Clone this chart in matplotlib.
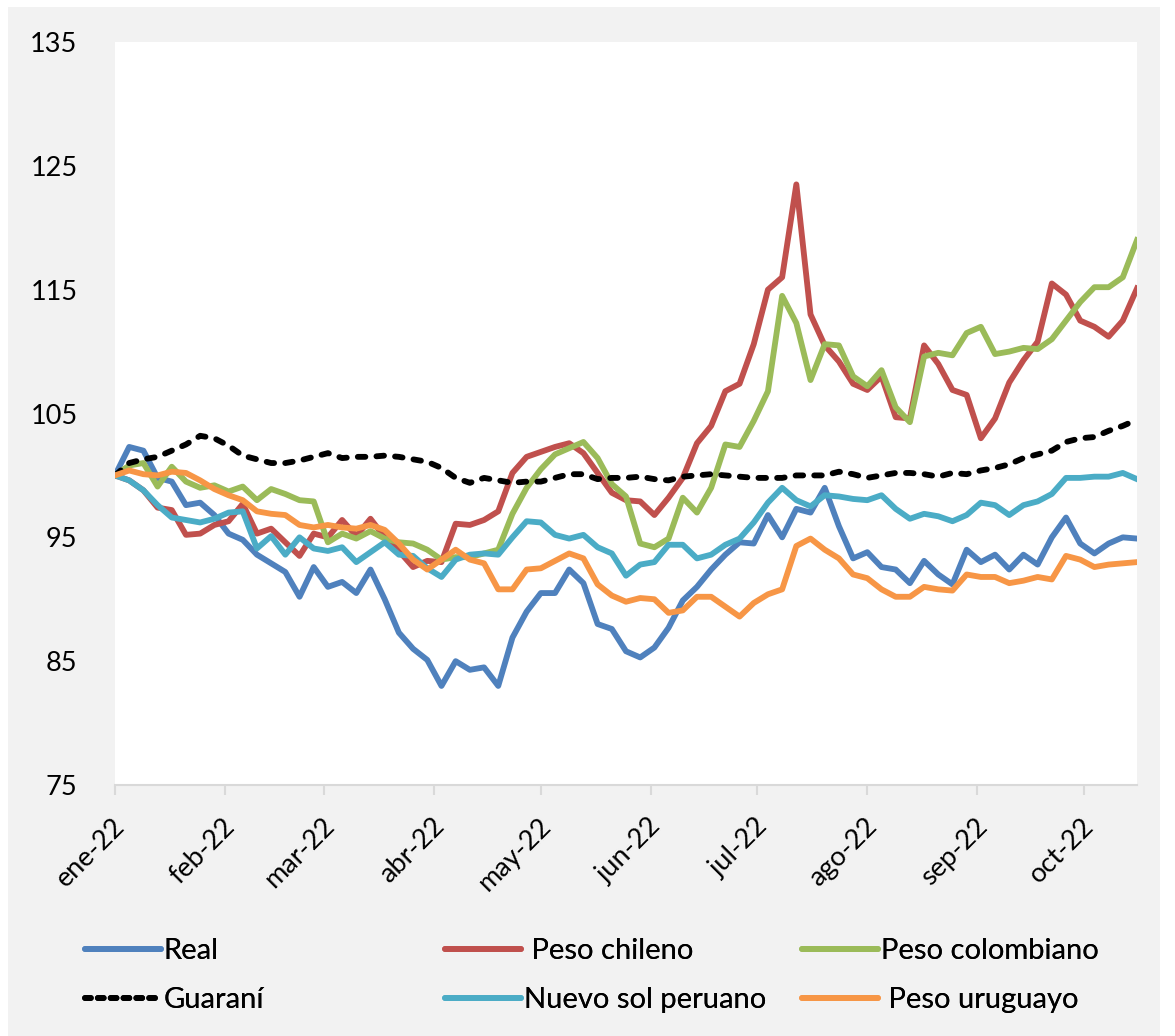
import matplotlib.pyplot as plt
from matplotlib.lines import Line2D
from matplotlib.patches import Rectangle
from matplotlib.transforms import ScaledTranslation
import pandas as pd

plt.rcParams["font.family"] = ["Lato", "DejaVu Sans"]

# índices base 100 (1 ene 2022), una observación cada 4 días
dates = pd.date_range("2022-01-01", periods=73, freq="4D")

real = [100.0, 102.3, 102.0, 99.8, 99.5, 97.6, 97.8, 96.8, 95.3, 94.8,
        93.6, 92.9, 92.2, 90.2, 92.6, 91.0, 91.4, 90.5, 92.4, 90.0,
        87.3, 86.0, 85.1, 83.0, 85.0, 84.3, 84.5, 83.0, 86.9, 89.0,
        90.5, 90.5, 92.4, 91.3, 88.0, 87.6, 85.8, 85.3, 86.1, 87.7,
        89.9, 91.0, 92.4, 93.6, 94.6, 94.5, 96.8, 95.0, 97.3, 97.0,
        99.0, 95.9, 93.3, 93.8, 92.6, 92.4, 91.3, 93.1, 92.0, 91.2,
        94.0, 93.0, 93.6, 92.4, 93.6, 92.8, 95.0, 96.6, 94.5, 93.7,
        94.5, 95.0, 94.9]

peso_chileno = [100.0, 99.6, 98.8, 97.4, 97.2, 95.2, 95.3, 96.0, 96.3, 97.7,
                95.3, 95.7, 94.6, 93.5, 95.3, 95.0, 96.4, 95.1, 96.5, 95.0,
                93.9, 92.6, 93.1, 93.0, 96.1, 96.0, 96.4, 97.1, 100.2, 101.5,
                101.9, 102.3, 102.6, 101.8, 100.2, 98.6, 98.0, 97.9, 96.8, 98.2,
                99.8, 102.6, 104.0, 106.8, 107.4, 110.6, 115.0, 116.0, 123.5, 113.0,
                110.5, 109.2, 107.4, 106.9, 108.0, 104.7, 104.6, 110.5, 109.0, 106.9,
                106.5, 103.0, 104.6, 107.5, 109.3, 110.8, 115.5, 114.6, 112.5, 112.0,
                111.2, 112.5, 115.1]

peso_colombiano = [100.0, 100.8, 101.0, 99.1, 100.7, 99.5, 99.0, 99.2, 98.7, 99.1,
                   98.0, 98.9, 98.5, 98.0, 97.9, 94.6, 95.3, 94.9, 95.5, 94.9,
                   94.6, 94.5, 94.0, 93.2, 93.4, 93.4, 93.7, 94.0, 96.9, 99.0,
                   100.5, 101.7, 102.2, 102.7, 101.4, 99.3, 98.3, 94.5, 94.2, 94.9,
                   98.2, 97.0, 99.0, 102.5, 102.3, 104.4, 106.8, 114.5, 112.3, 107.7,
                   110.6, 110.5, 108.0, 107.2, 108.5, 105.5, 104.3, 109.6, 109.9, 109.7,
                   111.5, 112.0, 109.8, 110.0, 110.3, 110.2, 111.0, 112.5, 114.0, 115.2,
                   115.2, 116.0, 119.0]

guarani = [100.0, 101.0, 101.3, 101.5, 102.0, 102.5, 103.2, 103.0, 102.4, 101.6,
           101.3, 101.0, 101.0, 101.2, 101.5, 101.8, 101.4, 101.5, 101.5, 101.6,
           101.5, 101.3, 101.1, 100.6, 99.8, 99.4, 99.8, 99.6, 99.4, 99.5,
           99.5, 99.8, 100.1, 100.1, 99.7, 99.8, 99.8, 99.9, 99.7, 99.6,
           99.9, 100.0, 100.1, 100.0, 99.9, 99.8, 99.8, 99.8, 100.0, 100.0,
           100.0, 100.3, 100.1, 99.8, 100.0, 100.2, 100.2, 100.1, 99.9, 100.2,
           100.1, 100.4, 100.6, 100.9, 101.4, 101.7, 102.0, 102.7, 103.0, 103.1,
           103.6, 104.0, 104.5]

nuevo_sol = [100.0, 99.6, 98.8, 97.6, 96.6, 96.4, 96.2, 96.5, 97.0, 97.1,
             94.1, 95.1, 93.6, 95.0, 94.1, 93.9, 94.2, 93.0, 93.8, 94.6,
             93.6, 93.5, 92.5, 91.8, 93.2, 93.6, 93.7, 93.6, 95.0, 96.3,
             96.2, 95.2, 94.9, 95.2, 94.2, 93.7, 91.9, 92.8, 93.0, 94.4,
             94.4, 93.3, 93.6, 94.4, 94.9, 96.2, 97.8, 99.0, 98.0, 97.5,
             98.4, 98.3, 98.1, 98.0, 98.4, 97.3, 96.5, 96.9, 96.7, 96.3,
             96.8, 97.8, 97.6, 96.8, 97.6, 97.9, 98.5, 99.8, 99.8, 99.9,
             99.9, 100.2, 99.7]

peso_uruguayo = [100.0, 100.4, 100.1, 100.0, 100.3, 100.2, 99.6, 98.9, 98.4, 98.0,
                 97.1, 96.9, 96.8, 96.0, 95.8, 96.0, 95.8, 95.7, 96.0, 95.6,
                 94.5, 93.2, 92.4, 93.2, 94.0, 93.2, 92.9, 90.8, 90.8, 92.4,
                 92.5, 93.1, 93.7, 93.3, 91.2, 90.3, 89.8, 90.1, 90.0, 88.9,
                 89.1, 90.2, 90.2, 89.4, 88.6, 89.7, 90.4, 90.8, 94.3, 94.9,
                 94.0, 93.3, 92.0, 91.7, 90.8, 90.2, 90.2, 91.0, 90.8, 90.7,
                 92.0, 91.8, 91.8, 91.3, 91.5, 91.8, 91.6, 93.5, 93.2, 92.6,
                 92.8, 92.9, 93.0]

month_ticks = pd.date_range("2022-01-01", "2022-10-01", freq="MS")
month_labels = ["ene-22", "feb-22", "mar-22", "abr-22", "may-22",
                "jun-22", "jul-22", "ago-22", "sep-22", "oct-22"]

W, H = 1175, 1036
fig = plt.figure(figsize=(W / 100, H / 100), dpi=100, facecolor="white")
fig.patches.append(Rectangle((8 / W, 0), 1152 / W, 1 - 7 / H, transform=fig.transFigure,
                             facecolor="#f2f2f2", edgecolor="none", zorder=-10))

ax = fig.add_axes([115 / W, 1 - 785 / H, (1137 - 115) / W, (785 - 42) / H])
ax.set_facecolor("white")

lw = 4.2
ax.plot(dates, real, color="#4f81bd", lw=lw, solid_joinstyle="round")
ax.plot(dates, peso_chileno, color="#c0504d", lw=lw, solid_joinstyle="round")
ax.plot(dates, peso_colombiano, color="#9bbb59", lw=lw, solid_joinstyle="round")
ax.plot(dates, guarani, color="black", lw=lw, dashes=(1.3, 1.9), dash_capstyle="round")
ax.plot(dates, nuevo_sol, color="#4bacc6", lw=lw, solid_joinstyle="round")
ax.plot(dates, peso_uruguayo, color="#f79646", lw=lw, solid_joinstyle="round")

ax.set_xlim(pd.Timestamp("2022-01-01"), pd.Timestamp("2022-10-16"))
ax.set_ylim(75, 135)
ax.set_yticks(range(75, 136, 10))
ax.set_xticks(month_ticks)
ax.set_xticklabels(month_labels)

for side in ["left", "top", "right"]:
    ax.spines[side].set_visible(False)
ax.spines["bottom"].set_color("#d9d9d9")
ax.spines["bottom"].set_linewidth(1.5)

ax.tick_params(axis="y", length=0, pad=27, labelsize=19.5)
ax.tick_params(axis="x", length=7, width=1.5, color="#d9d9d9", labelsize=19.5, pad=20)
shift = ScaledTranslation(6 / 100, 0, fig.dpi_scale_trans)
for lbl in ax.get_xticklabels():
    lbl.set_rotation(45)
    lbl.set_ha("right")
    lbl.set_va("center")
    lbl.set_rotation_mode("anchor")
    lbl.set_transform(lbl.get_transform() + shift)


def handle(color, dashed=False):
    if dashed:
        return Line2D([], [], color=color, lw=lw, dashes=(1.0, 1.2), dash_capstyle="round")
    return Line2D([], [], color=color, lw=lw, solid_capstyle="round")


legend_cols = [
    (85, [handle("#4f81bd"), handle("black", True)], ["Real", "Guaraní"]),
    (445, [handle("#c0504d"), handle("#4bacc6")], [" Peso chileno", "Nuevo sol peruano"]),
    (802, [handle("#9bbb59"), handle("#f79646")], ["Peso colombiano", " Peso uruguayo"]),
]
for x0, hs, labels in legend_cols:
    leg = fig.legend(hs, labels, loc="upper left", bbox_to_anchor=(x0 / W, 1 - 938 / H),
                     frameon=False, fontsize=21, handlelength=2.6, handletextpad=0.1,
                     labelspacing=0.8, borderpad=0, borderaxespad=0)
    fig.add_artist(leg)

fig.savefig("out.png", dpi=100, facecolor=fig.get_facecolor())
